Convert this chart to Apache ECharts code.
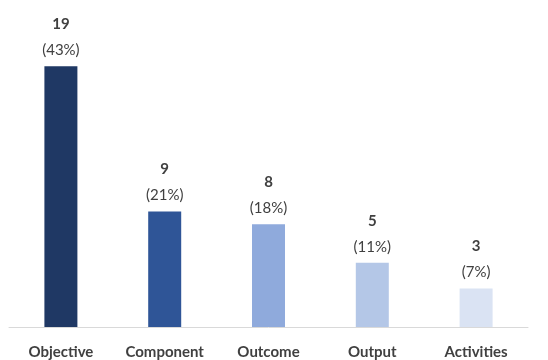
<!DOCTYPE html>
<html>
<head>
<meta charset="utf-8">
<script src="https://cdn.jsdelivr.net/npm/echarts@6/dist/echarts.min.js"></script>
<style>html,body{margin:0;padding:0;background:#fff}#c{width:548px;height:360px}</style>
</head>
<body>
<div id="c"></div>
<script>
const categories = ['Objective', 'Component', 'Outcome', 'Output', 'Activities'];
const counts = [19, 9, 8, 5, 3];
const percents = ['43%', '21%', '18%', '11%', '7%'];
// bar heights as drawn in the picture (in count units)
const barHeights = [20.3, 9, 8, 5, 3];
const colors = ['#1f3864', '#2f5597', '#8faadc', '#b4c7e7', '#dae3f3'];

const chart = echarts.init(document.getElementById('c'));
chart.setOption({
  animation: false,
  grid: { left: 9, right: 20, top: 6, bottom: 33 },
  xAxis: {
    type: 'category',
    data: categories,
    axisLine: { lineStyle: { color: '#d9d9d9', width: 1 } },
    axisTick: { show: false },
    axisLabel: { color: '#404040', fontWeight: 'bold', fontSize: 15, fontFamily: 'Lato', margin: 18 }
  },
  yAxis: { type: 'value', min: 0, max: 25, show: false, splitLine: { show: false } },
  series: [{
    type: 'bar',
    barWidth: 33,
    data: barHeights.map((v, i) => ({ value: v, itemStyle: { color: colors[i] } })),
    label: {
      show: true,
      position: 'top',
      distance: 5,
      formatter: p => '{a|' + counts[p.dataIndex] + '}\n{b|(' + percents[p.dataIndex] + ')}',
      rich: {
        a: { fontSize: 15, fontWeight: 'bold', color: '#404040', fontFamily: 'Lato', lineHeight: 30 },
        b: { fontSize: 15, color: '#404040', fontFamily: 'Lato', lineHeight: 22 }
      }
    }
  }]
});
</script>
</body>
</html>
